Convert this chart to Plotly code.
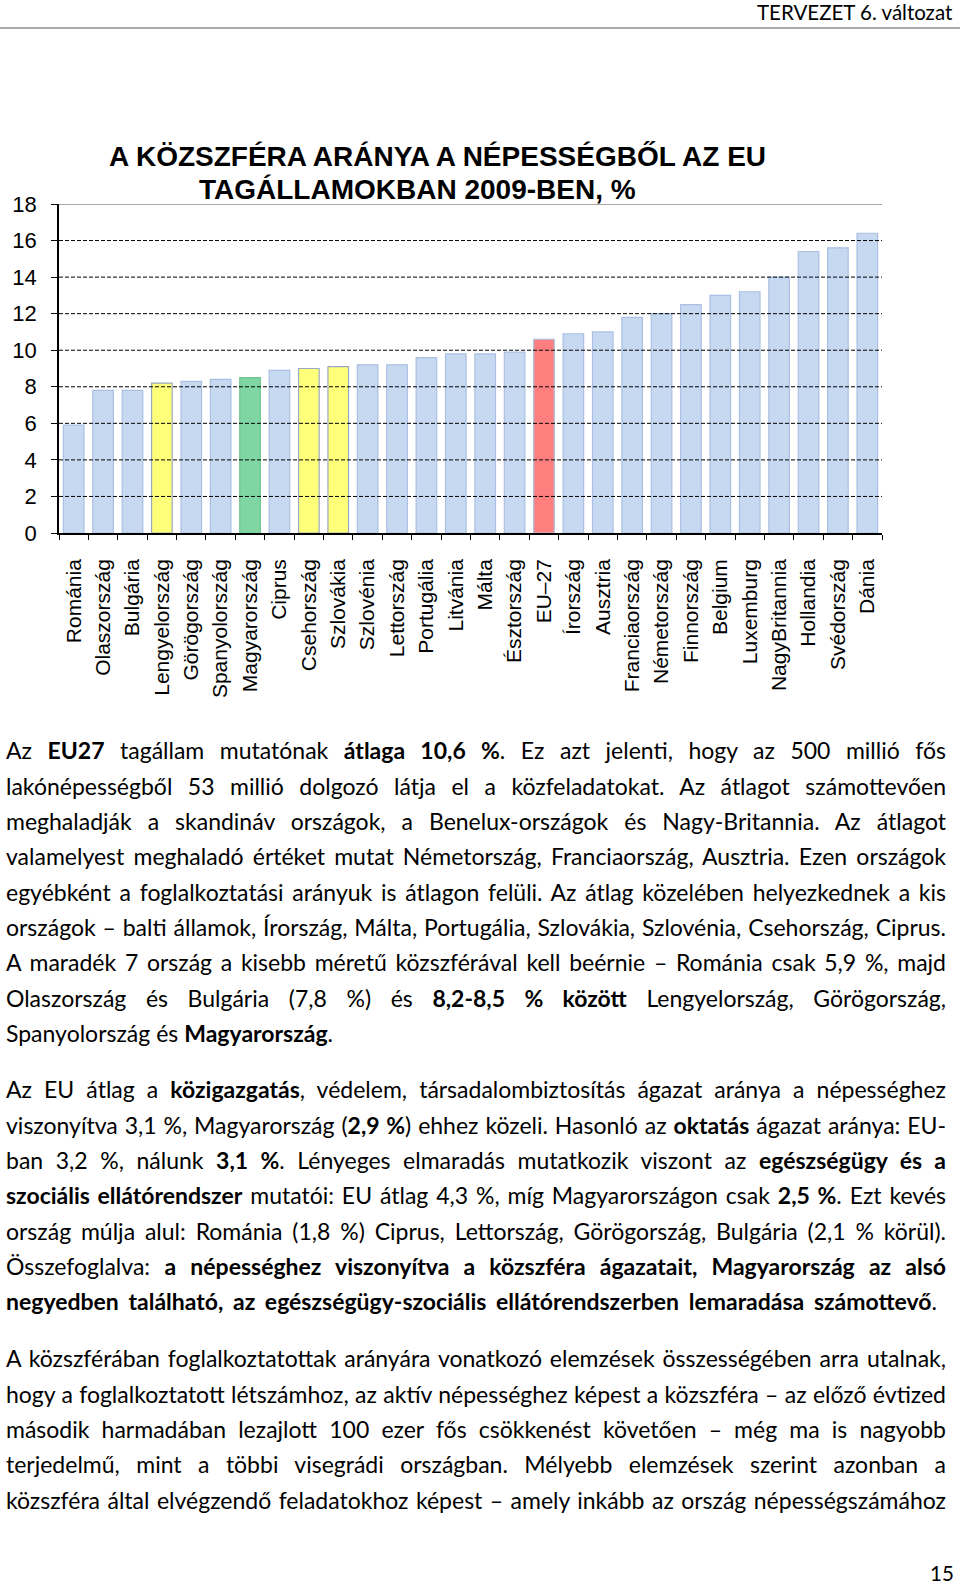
import json
import plotly.graph_objects as go

W, H = 960, 1585

# ---------------- data ----------------
countries = ["Románia", "Olaszország", "Bulgária", "Lengyelország", "Görögország",
             "Spanyolország", "Magyarország", "Ciprus", "Csehország", "Szlovákia",
             "Szlovénia", "Lettország", "Portugália", "Litvánia", "Málta",
             "Észtország", "EU–27", "Írország", "Ausztria", "Franciaország",
             "Németország", "Finnország", "Belgium", "Luxemburg", "NagyBritannia",
             "Hollandia", "Svédország", "Dánia"]
values = [5.9, 7.8, 7.8, 8.2, 8.3, 8.4, 8.5, 8.9, 9.0, 9.1, 9.2, 9.2, 9.6, 9.8, 9.8,
          9.9, 10.6, 10.9, 11.0, 11.8, 12.0, 12.5, 13.0, 13.2, 14.0, 15.4, 15.6, 16.4]
yellow_group = ["Lengyelország", "Csehország", "Szlovákia"]
green_group = ["Magyarország"]
red_group = ["EU–27"]
y_ticks = [0, 2, 4, 6, 8, 10, 12, 14, 16, 18]

title_lines = ["A KÖZSZFÉRA ARÁNYA A NÉPESSÉGBŐL AZ EU", "TAGÁLLAMOKBAN 2009-BEN, %"]
header_text = "TERVEZET 6. változat"
page_number = "15"

para1 = [
    "Az <b>EU27</b> tagállam mutatónak <b>átlaga 10,6 %</b>. Ez azt jelenti, hogy az 500 millió fős",
    "lakónépességből 53 millió dolgozó látja el a közfeladatokat. Az átlagot számottevően",
    "meghaladják a skandináv országok, a Benelux-országok és Nagy-Britannia. Az átlagot",
    "valamelyest meghaladó értéket mutat Németország, Franciaország, Ausztria. Ezen országok",
    "egyébként a foglalkoztatási arányuk is átlagon felüli. Az átlag közelében helyezkednek a kis",
    "országok – balti államok, Írország, Málta, Portugália, Szlovákia, Szlovénia, Csehország, Ciprus.",
    "A maradék 7 ország a kisebb méretű közszférával kell beérnie – Románia csak 5,9 %, majd",
    "Olaszország és Bulgária (7,8 %) és <b>8,2-8,5 % között</b> Lengyelország, Görögország,",
    "Spanyolország és <b>Magyarország</b>.",
]
para2 = [
    "Az EU átlag a <b>közigazgatás</b>, védelem, társadalombiztosítás ágazat aránya a népességhez",
    "viszonyítva 3,1 %, Magyarország (<b>2,9 %</b>) ehhez közeli. Hasonló az <b>oktatás</b> ágazat aránya: EU-",
    "ban 3,2 %, nálunk <b>3,1 %</b>. Lényeges elmaradás mutatkozik viszont az <b>egészségügy és a</b>",
    "<b>szociális ellátórendszer</b> mutatói: EU átlag 4,3 %, míg Magyarországon csak <b>2,5 %</b>. Ezt kevés",
    "ország múlja alul: Románia (1,8 %) Ciprus, Lettország, Görögország, Bulgária (2,1 % körül).",
    "Összefoglalva: <b>a népességhez viszonyítva a közszféra ágazatait, Magyarország az alsó</b>",
    "<b>negyedben található, az egészségügy-szociális ellátórendszerben lemaradása számottevő</b>.",
]
para3 = [
    "A közszférában foglalkoztatottak arányára vonatkozó elemzések összességében arra utalnak,",
    "hogy a foglalkoztatott létszámhoz, az aktív népességhez képest a közszféra – az előző évtized",
    "második harmadában lezajlott 100 ezer fős csökkenést követően – még ma is nagyobb",
    "terjedelmű, mint a többi visegrádi országban. Mélyebb elemzések szerint azonban a",
    "közszféra által elvégzendő feladatokhoz képest – amely inkább az ország népességszámához",
]
# (lines, first baseline px, right edge of each line in px)
FULL = 946
paragraphs = [
    (para1, 759, [FULL] * 8 + [333]),
    (para2, 1098, [FULL] * 6 + [937]),
    (para3, 1367, [FULL] * 5),
]
LINE_STEP = 35.35

def bar_fill(c):
    if c in yellow_group:
        return "#ffff7a"
    if c in green_group:
        return "#7fd6a2"
    if c in red_group:
        return "#ff7f7f"
    return "#c6d9f1"

def bar_edge(c):
    if c in yellow_group:
        return "#9aa8c0"
    if c in green_group:
        return "#6cc490"
    if c in red_group:
        return "#a9bfe3"
    return "#a9c0e2"

fig = go.Figure()
fig.add_trace(go.Bar(
    x=countries, y=values,
    marker=dict(color=[bar_fill(c) for c in countries],
                line=dict(color=[bar_edge(c) for c in countries], width=1.2)),
    hoverinfo="x+y",
))

PLOT_L, PLOT_R, PLOT_T, PLOT_B = 59, 882, 204, 533

fig.update_layout(
    template="none",
    width=W, height=H,
    margin=dict(l=0, r=0, t=0, b=0, pad=0, autoexpand=False),
    paper_bgcolor="white", plot_bgcolor="white",
    showlegend=False, bargap=0.30,
)
fig.update_xaxes(
    domain=[PLOT_L / W, PLOT_R / W], type="category", automargin=False,
    tickson="boundaries", ticks="outside", ticklen=5, tickwidth=1, tickcolor="black",
    showline=True, linecolor="black", linewidth=1.5, showgrid=False, zeroline=False,
    tickangle=-90, ticklabelstandoff=16,
    tickfont=dict(family="Liberation Sans, Arial", size=21, color="black"),
)
fig.update_yaxes(
    domain=[1 - PLOT_B / H, 1 - PLOT_T / H], range=[0, 18], automargin=False,
    tickmode="array", tickvals=y_ticks, ticktext=[str(v) for v in y_ticks],
    ticks="outside", ticklen=6, tickwidth=1, tickcolor="black",
    showline=True, linecolor="black", linewidth=1.5, showgrid=False, zeroline=False,
    ticklabelstandoff=10,
    tickfont=dict(family="Liberation Sans, Arial", size=22, color="black"),
)

for v in y_ticks[1:-1]:
    fig.add_shape(type="line", xref="x domain", yref="y", x0=0, x1=1, y0=v, y1=v,
                  line=dict(color="black", width=1, dash="4px,2px"), layer="above")
fig.add_shape(type="line", xref="x domain", yref="y", x0=0, x1=1, y0=18, y1=18,
              line=dict(color="#8a8a8a", width=1.5), layer="above")
fig.add_shape(type="line", xref="paper", yref="paper", x0=0, x1=1,
              y0=1 - 28 / H, y1=1 - 28 / H, line=dict(color="#555555", width=1))

annotations = []

def add_text(x_px, y_mid_px, text, size, family, xanchor="left", color="black"):
    annotations.append(dict(
        xref="paper", yref="paper", x=x_px / W, y=1 - y_mid_px / H,
        text=text, showarrow=False, xanchor=xanchor, yanchor="middle",
        align=xanchor if xanchor != "center" else "center",
        font=dict(family=family, size=size, color=color),
    ))
    return len(annotations) - 1

add_text(955, 12, header_text, 20.5, "Lato", xanchor="right")
add_text(956, 1573, page_number, 20.5, "Lato", xanchor="right")

add_text(437, 156.5, "<b>" + title_lines[0] + "</b>", 28, "Liberation Sans, Arial", xanchor="center")
add_text(417, 189.5, "<b>" + title_lines[1] + "</b>", 28, "Liberation Sans, Arial", xanchor="center")

BODY_SIZE = 23
justify = []
for lines, base0, rights in paragraphs:
    for k, line in enumerate(lines):
        baseline = base0 + k * LINE_STEP
        idx = add_text(4, baseline - 8.7, line, BODY_SIZE, "Lato", xanchor="left")
        justify.append([idx, rights[k]])

fig.update_layout(annotations=annotations)

# justify the body lines (word-spacing) so that each ends where it does on the page
post = """
document.body.style.margin = '0';
var gd = document.getElementById('{plot_id}');
var JLIST = %s;
function justifyLines() {
  var base = gd.getBoundingClientRect().left;
  JLIST.forEach(function (item) {
    var g = gd.querySelector('g.annotation[data-index="' + item[0] + '"]');
    if (!g) return;
    var t = g.querySelector('text.annotation-text');
    if (!t) return;
    t.style.wordSpacing = '0px';
    var w = t.getComputedTextLength();
    var n = (t.textContent.match(/ /g) || []).length;
    if (n < 1) return;
    var left = t.getBoundingClientRect().left - base;
    var target = item[1] - left;
    t.style.wordSpacing = ((target - w) / n) + 'px';
  });
}
justifyLines();
if (document.fonts && document.fonts.ready) { document.fonts.ready.then(justifyLines); }
gd.on('plotly_afterplot', justifyLines);
""" % json.dumps(justify)

fig.write_html("out.html", post_script=post, config={"displayModeBar": False})
